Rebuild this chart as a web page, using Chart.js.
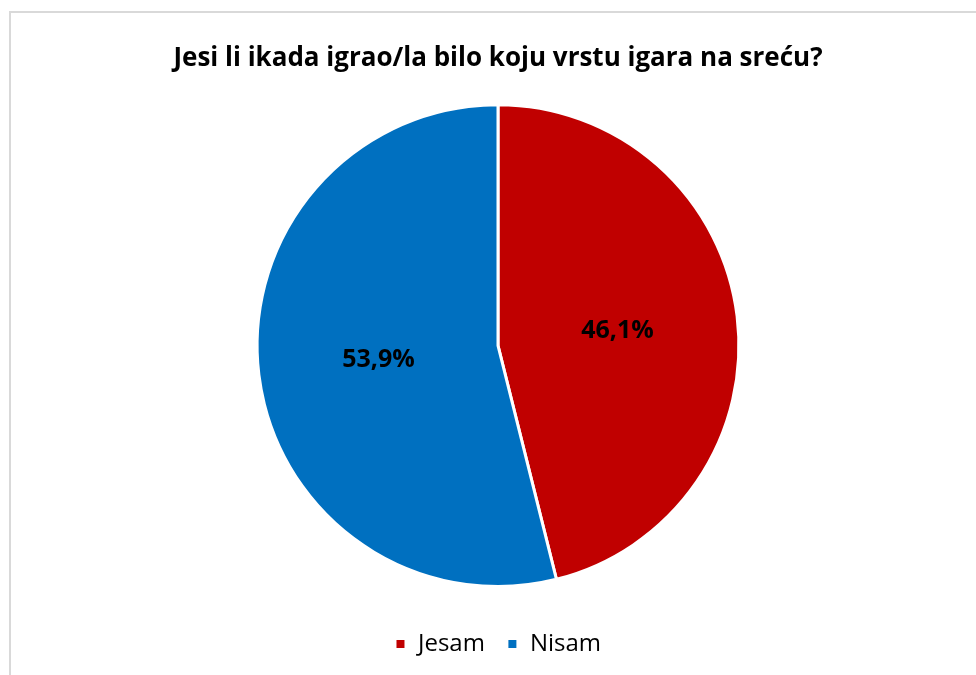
<!DOCTYPE html>
<html>
<head>
<meta charset="utf-8">
<script src="https://cdn.jsdelivr.net/npm/chart.js@4/dist/chart.umd.min.js"></script>
<style>
  html, body { margin: 0; padding: 0; background: #ffffff; }
  #wrap { position: relative; width: 976px; height: 675px; }
  #frame { position: absolute; left: 9px; top: 11px; right: -2px; bottom: -2px;
           border-left: 2px solid #d9d9d9; border-top: 2px solid #d9d9d9; box-sizing: border-box; }
  canvas { position: absolute; left: 0; top: 0; }
</style>
</head>
<body>
<div id="wrap">
  <div id="frame"></div>
  <canvas id="c" width="976" height="675"></canvas>
</div>
<script>
const titleText = "Jesi li ikada igrao/la bilo koju vrstu igara na sreću?";
const categories = ["Jesam", "Nisam"];
const values = [46.1, 53.9];
const valueLabels = ["46,1%", "53,9%"];
const colors = ["#C00000", "#0070C0"];

const FONT = "'Open Sans', Lato, 'Liberation Sans', sans-serif";

const labelPlugin = {
  id: 'sliceLabels',
  afterDatasetsDraw(chart) {
    const ctx = chart.ctx;
    const meta = chart.getDatasetMeta(0);
    ctx.save();
    ctx.font = "bold 25px " + FONT;
    ctx.fillStyle = "#000000";
    ctx.textAlign = "center";
    ctx.textBaseline = "middle";
    meta.data.forEach((arc, i) => {
      const p = arc.tooltipPosition();
      ctx.fillText(valueLabels[i], p.x, p.y);
    });
    ctx.restore();
  }
};

new Chart(document.getElementById('c'), {
  type: 'pie',
  data: {
    labels: categories,
    datasets: [{
      data: values,
      backgroundColor: colors,
      borderColor: "#ffffff",
      borderWidth: 3
    }]
  },
  options: {
    responsive: false,
    animation: false,
    layout: { padding: { left: 20, right: 0, top: 0, bottom: 9 } },
    plugins: {
      tooltip: { enabled: false },
      title: {
        display: true,
        text: titleText,
        color: "#000000",
        font: { family: FONT, size: 26, weight: 'bold' },
        padding: { top: 43, bottom: 29 }
      },
      legend: {
        position: 'bottom',
        title: {
          display: true,
          text: ' ',
          font: { family: FONT, size: 10 },
          padding: { top: 0, bottom: 10 }
        },
        labels: {
          color: "#000000",
          font: { family: FONT, size: 24 },
          boxWidth: 11,
          boxHeight: 11,
          padding: 22
        }
      }
    }
  },
  plugins: [labelPlugin]
});
</script>
</body>
</html>
